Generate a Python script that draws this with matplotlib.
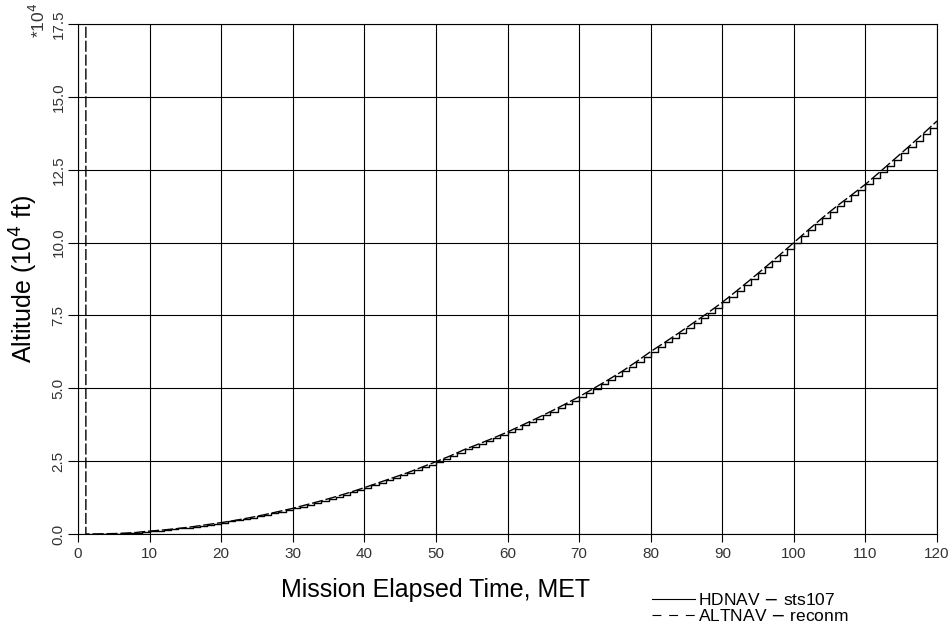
import numpy as np
import matplotlib.pyplot as plt
from matplotlib.lines import Line2D

# altitude in 1e4 ft vs MET (s), HDNAV sampled every second
hd_t = list(range(2, 121))
hd_alt = [0.00, 0.00, 0.01, 0.01, 0.02, 0.03, 0.05, 0.07, 0.10, 0.12,
          0.14, 0.16, 0.19, 0.22, 0.25, 0.28, 0.32, 0.35, 0.39, 0.43,
          0.47, 0.51, 0.56, 0.61, 0.66, 0.71, 0.77, 0.82, 0.88, 0.94,
          1.01, 1.07, 1.14, 1.21, 1.28, 1.35, 1.43, 1.51, 1.59, 1.67,
          1.76, 1.84, 1.93, 2.01, 2.10, 2.19, 2.29, 2.38, 2.48, 2.58,
          2.68, 2.79, 2.90, 2.99, 3.09, 3.19, 3.29, 3.39, 3.50, 3.61,
          3.73, 3.84, 3.96, 4.08, 4.20, 4.32, 4.45, 4.58, 4.71, 4.85,
          4.99, 5.13, 5.28, 5.43, 5.58, 5.74, 5.91, 6.08, 6.26, 6.42,
          6.58, 6.74, 6.91, 7.08, 7.25, 7.42, 7.59, 7.77, 7.95, 8.14,
          8.34, 8.54, 8.74, 8.94, 9.15, 9.36, 9.57, 9.78, 10.00, 10.21,
          10.43, 10.64, 10.85, 11.05, 11.25, 11.44, 11.62, 11.81, 12.00, 12.21,
          12.42, 12.63, 12.85, 13.06, 13.28, 13.50, 13.72, 13.94, 14.17]

# ALTNAV: jump at ~1.1 s, then every 2 s
alt_t = [1.1, 1.1] + list(range(2, 121, 2))
alt_alt = [20.0, 0.0,
           0.00, 0.01, 0.02, 0.05, 0.10, 0.14, 0.19, 0.25, 0.32, 0.39,
           0.47, 0.56, 0.66, 0.77, 0.88, 1.01, 1.14, 1.28, 1.43, 1.59,
           1.76, 1.93, 2.10, 2.29, 2.48, 2.68, 2.90, 3.09, 3.29, 3.50,
           3.73, 3.96, 4.20, 4.45, 4.71, 4.99, 5.28, 5.58, 5.91, 6.26,
           6.58, 6.91, 7.25, 7.59, 7.95, 8.34, 8.74, 9.15, 9.57, 10.00,
           10.43, 10.85, 11.25, 11.62, 12.00, 12.42, 12.85, 13.28, 13.72, 14.17]

xticks = np.arange(0, 121, 10)
yticks = np.arange(0, 17.6, 2.5)

plt.rcParams['font.family'] = ['Liberation Sans', 'DejaVu Sans']

fig = plt.figure(figsize=(9.51, 6.34), dpi=100)
ax = fig.add_axes([78/951, 1-534/634, 859/951, 510/634])

ax.plot(alt_t, alt_alt, color='black', lw=1.0, ls=(0, (8, 2)))
ax.plot(hd_t, hd_alt, color='black', lw=1.0, drawstyle='steps-post')

ax.set_xlim(0, 120)
ax.set_ylim(0, 17.5)
ax.set_xticks(xticks)
ax.set_yticks(yticks)
ax.set_xticklabels([str(v) for v in xticks], fontsize=11, color='#333333')
ax.set_yticklabels(['%.1f' % v for v in yticks], fontsize=11, color='#333333',
                   rotation=90, va='center')
ax.tick_params(axis='x', direction='out', length=6, width=0.8, pad=3)
ax.tick_params(axis='y', direction='out', length=7, width=0.8, pad=2)
ax.grid(True, color='black', lw=0.8)
for s in ax.spines.values():
    s.set_linewidth(0.8)

ax.set_ylabel('Altitude (10$^4$ ft)', fontsize=18, labelpad=8)
fig.text(436/951, 1-597/634, 'Mission Elapsed Time, MET', fontsize=18,
         ha='center', va='baseline')
fig.text(38/951, 1-20/634, '*10$^4$', fontsize=12.5, color='#333333',
         rotation=90, ha='center', va='center')

handles = [Line2D([], [], color='black', lw=0.8),
           Line2D([], [], color='black', lw=0.8, ls=(0, (8, 7)))]
fig.legend(handles, ['HDNAV $-$ sts107', 'ALTNAV $-$ reconm'],
           loc='upper left', bbox_to_anchor=(652/951, 1-592/634),
           frameon=False, fontsize=12.5, handlelength=2.5, handletextpad=0.15,
           labelspacing=0.0, borderpad=0, borderaxespad=0)

fig.savefig('out.png', dpi=100)
